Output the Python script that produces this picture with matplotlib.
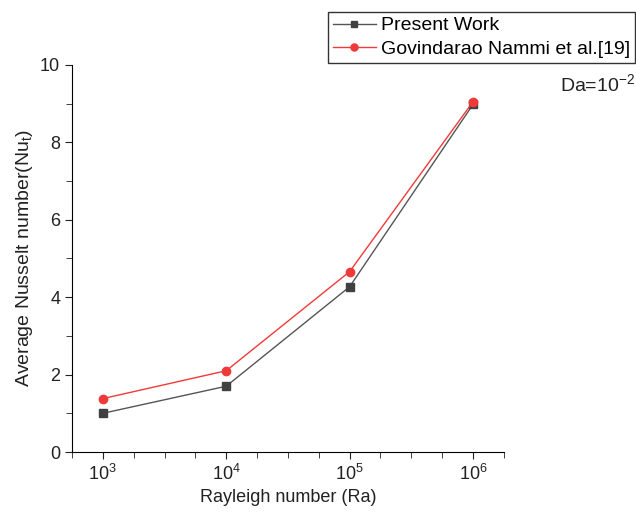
import matplotlib.pyplot as plt
from matplotlib.ticker import FixedLocator, MultipleLocator

plt.rcParams['font.family'] = ['Liberation Sans', 'DejaVu Sans']
plt.rcParams['mathtext.fontset'] = 'custom'
plt.rcParams['mathtext.rm'] = 'Liberation Sans'
plt.rcParams['mathtext.it'] = 'Liberation Sans:italic'

# data
ra_labels = ['$\\mathregular{10^3}$', '$\\mathregular{10^4}$',
             '$\\mathregular{10^5}$', '$\\mathregular{10^6}$']
present_work = [1.0, 1.7, 4.27, 8.98]
govindarao = [1.38, 2.1, 4.66, 9.05]
xpos = list(range(1, len(ra_labels) + 1))

fig = plt.figure(figsize=(6.36, 5.14), dpi=100)
ax = fig.add_axes([0.1132, 0.1206, 0.679, 0.753])

ax.plot(xpos, present_work, color='#555555', lw=1, marker='s', ms=5.5,
        mfc='#404040', mec='#404040', label='Present Work')
ax.plot(xpos, govindarao, color='#f03a3a', lw=1, marker='o', ms=6,
        mfc='#f03a3a', mec='#f03a3a', label='Govindarao Nammi et al.[19]')

ax.set_xlim(0.75, 4.25)
ax.set_ylim(0, 10)
ax.xaxis.set_major_locator(FixedLocator(xpos))
ax.set_xticklabels(ra_labels)
ax.xaxis.set_minor_locator(MultipleLocator(0.25))
ax.yaxis.set_major_locator(MultipleLocator(2))
ax.yaxis.set_minor_locator(MultipleLocator(1))
ax.tick_params(which='both', direction='out', labelsize=13, colors='#222222')
ax.tick_params(which='major', length=5)
ax.tick_params(which='minor', length=4)

for s in ['top', 'right']:
    ax.spines[s].set_visible(False)

ax.set_xlabel('Rayleigh number (Ra)', fontsize=13, color='#222222')
ax.set_ylabel('Average Nusselt number(Nu$\\mathregular{_t}$)', fontsize=14,
              color='#222222')

leg = fig.legend(loc='upper left', bbox_to_anchor=(328 / 636, 1 - 12 / 514),
                 fontsize=14, frameon=True, fancybox=False, edgecolor='black',
                 handlelength=2.2, borderpad=0.25, labelspacing=0.3,
                 handletextpad=0.3, borderaxespad=0, markerscale=0.85)
leg.get_frame().set_linewidth(1)
leg._legend_box.sep = 2

fig.text(560 / 636, 1 - 91 / 514, 'Da=10$^{\\mathregular{-2}}$', fontsize=14,
         color='#222222')

fig.savefig('out.png', dpi=100)
